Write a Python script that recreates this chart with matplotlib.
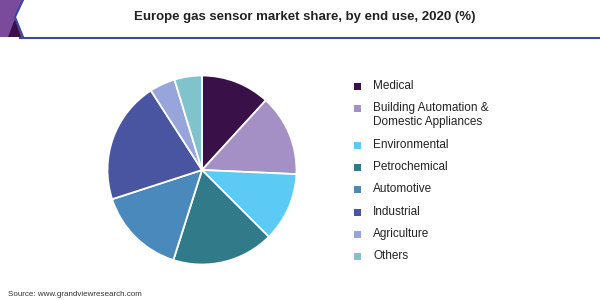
import matplotlib
matplotlib.use("Agg")
import matplotlib.pyplot as plt
from matplotlib.patches import Polygon, Rectangle
from matplotlib.lines import Line2D

plt.rcParams['font.family'] = ['Liberation Sans', 'DejaVu Sans']

TITLE = "Europe gas sensor market share, by end use, 2020 (%)"
SOURCE = "Source: www.grandviewresearch.com"

labels = ["Medical", "Building Automation &\nDomestic Appliances", "Environmental",
          "Petrochemical", "Automotive", "Industrial", "Agriculture", "Others"]
shares = [11.8, 13.9, 11.8, 17.4, 15.1, 20.9, 4.4, 4.7]
colors = ["#3a1049", "#a490c4", "#5bcbf5", "#317a8a",
          "#4a89bb", "#4a55a2", "#97a5db", "#80c3cc"]

W, H = 600, 300
fig = plt.figure(figsize=(6, 3), dpi=100)


def fx(px):
    return px / W


def fy(py):
    return 1 - py / H


# header: logo and rule
logo = Polygon([(fx(0), fy(0)), (fx(23), fy(0)), (fx(15), fy(17)), (fx(23), fy(37)), (fx(0), fy(37))],
               closed=True, facecolor="#7a4a9c", edgecolor="none", transform=fig.transFigure)
fig.add_artist(logo)
dark = Polygon([(fx(8), fy(37)), (fx(15), fy(19)), (fx(21), fy(37))],
               closed=True, facecolor="#3a1049", edgecolor="none", transform=fig.transFigure)
fig.add_artist(dark)
fig.add_artist(Line2D([fx(23), fx(15), fx(23)], [fy(0), fy(17), fy(37)],
                      color="#3c4a9e", lw=1.5, transform=fig.transFigure))
fig.add_artist(Line2D([fx(20), fx(600)], [fy(37.5), fy(37.5)],
                      color="#3c4a9e", lw=1.5, transform=fig.transFigure))

fig.text(fx(305), fy(17), TITLE, ha="center", va="center",
         fontsize=9.5, fontweight="bold", color="#222222")

# pie
cx, cy, r = 202, 170, 94.5
ax = fig.add_axes([fx(cx - r), fy(cy + r), 2 * r / W, 2 * r / H])
ax.pie(shares, colors=colors, startangle=90, counterclock=False,
       wedgeprops=dict(edgecolor="white", linewidth=1.3))
ax.set_xlim(-1, 1)
ax.set_ylim(-1, 1)
ax.set_aspect("auto")
ax.axis("off")

# legend
y = 86
for label, color in zip(labels, colors):
    nlines = label.count("\n") + 1
    fig.add_artist(Rectangle((fx(354), fy(y + 4)), 7 / W, 7 / H,
                             facecolor=color, edgecolor="none", transform=fig.transFigure))
    fig.text(fx(373), fy(y + 7 * (nlines - 1)), label, ha="left", va="center",
             fontsize=8.5, color="#222222", linespacing=1.2)
    y += 22.3 + 14 * (nlines - 1)

fig.text(fx(8), fy(294), SOURCE, ha="left", va="center", fontsize=5.8, color="#333333")

fig.savefig("out.png", dpi=100)
